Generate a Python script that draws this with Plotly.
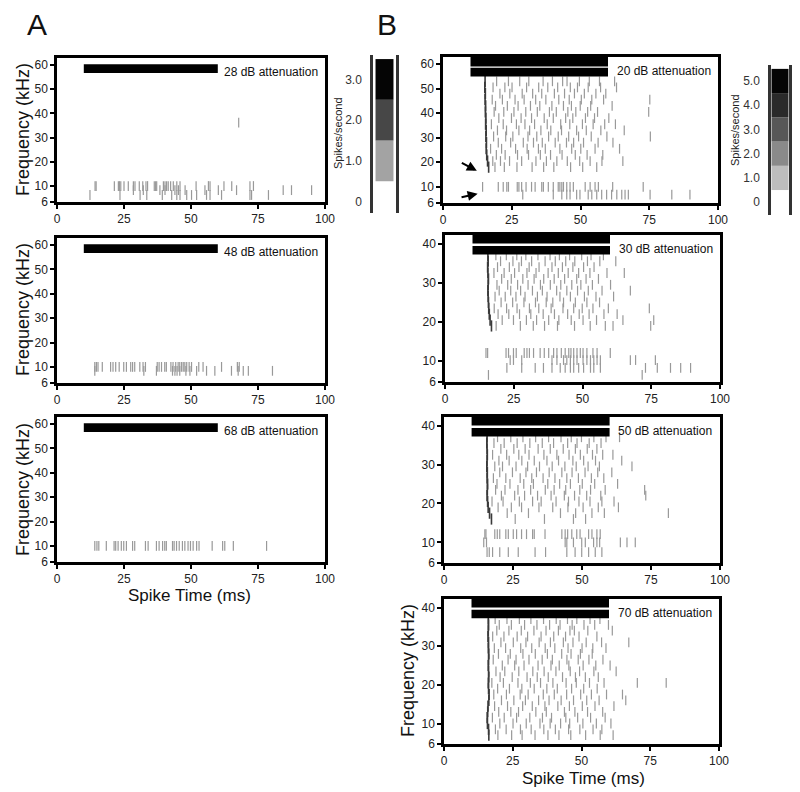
import plotly.graph_objects as go

FONT = "Liberation Sans, Arial, sans-serif"

# ---- shared axis / stimulus values ----
STIM_ON, STIM_OFF = 10, 60
X_TICKS = [0, 25, 50, 75, 100]
A_Y_TICKS = [10, 20, 30, 40, 50, 60]
B_Y_TICKS = [10, 20, 30, 40]
A_Y_RANGE = [3.4, 62.9]   # bottom of axis is labelled "6"
B_Y_RANGE = [4.7, 42.2]

# ---- Panel A: 28 dB ----
A1_ROWS = [10, 8.3, 6.3, 36.2]
A1_TIMES = [
    [14.2, 14.6, 21.4, 22.9, 23.3, 23.8, 25, 26.6, 28.5, 29.1, 30.7, 32, 33.2, 33.8, 36.3, 36.8,
     37.2, 39.7, 40.3, 40.9, 41.5, 42.4, 43.4, 44.7, 45.9, 51.9, 56.5, 57.1, 62.3, 65.2, 72, 73.3],
    [28.5, 32.2, 38.4, 40.3, 44, 45.3, 47.8, 55.2, 60.2, 67, 84.4, 87.5, 95],
    [12.3, 23.5, 31, 33.5, 39.3, 42.8, 44.7, 45.9, 48.4, 50.2, 52.1, 55.8, 57.1, 61.4, 72, 72.6, 78.9],
    [67.8],
]

# ---- Panel A: 48 dB ----
A2_ROWS = [10, 8.4]
A2_TIMES = [
    [14.1, 14.7, 15.3, 16.9, 20, 20.9, 21.9, 23.2, 24.9, 25.9, 27.5, 28.2, 29, 30.9, 32.1, 33,
     37.4, 38.1, 39, 40.2, 40.8, 42.5, 43.3, 44.3, 45.2, 45.8, 46.5, 47.1, 47.7, 48.4, 49.3,
     50.2, 52.9, 54.5, 61.4, 67.3, 68],
    [14.1, 32.4, 37.1, 43.1, 44, 44.8, 45.8, 48.1, 49.6, 52.1, 55.8, 58.9, 65.1, 67.6, 69.5,
     71.4, 80.4],
]

# ---- Panel A: 68 dB ----
A3_ROWS = [10]
A3_TIMES = [
    [14.1, 14.9, 15.6, 18.4, 21.3, 21.9, 22.8, 24, 24.9, 25.9, 28.2, 29, 33, 34, 37.1, 38.1,
     39.4, 40.2, 40.8, 43.1, 43.7, 44.6, 45.6, 46.8, 47.7, 48.9, 49.8, 50.8, 52.1, 53, 57.9,
     61.8, 62.6, 65.8, 78.2],
]

# ---- Panel B: 20 dB ----
B1_ROWS = [53, 50.5, 48, 45.5, 43, 40.5, 38, 35.5, 33, 30.5, 28, 25.5, 23, 20.5, 18, 10, 6.8]
B1_FIRST = [15.3, 15.2, 15.4, 15.3, 15.5, 15.4, 15.6, 15.5, 15.7, 15.6, 15.8, 15.7, 15.9, 16.2, 16.6]
B1_TIMES = [
    [19.5, 23.8, 27.9, 31.2, 36.4, 39.8, 43.5, 45.1, 49.6, 53.2, 56.9, 62.4],
    [18.2, 22.5, 25.1, 30.4, 34.8, 38.1, 41.7, 46.3, 48.9, 52.8, 57.3, 63.1],
    [20.7, 24.3, 28.8, 32.6, 35.9, 40.5, 44.2, 47.8, 51.4, 55.6, 59.2],
    [17.9, 21.6, 26.2, 29.5, 33.7, 37.4, 42.1, 45.9, 50.3, 54.1, 58.4, 75.2],
    [19.1, 23.4, 27.3, 31.8, 35.2, 39.6, 43.8, 46.7, 49.9, 53.7, 61.5],
    [18.6, 22.1, 25.8, 30.1, 34.3, 38.7, 41.2, 45.4, 48.3, 52.6, 56.2, 74.8],
    [20.3, 24.9, 28.4, 32.2, 36.8, 40.1, 44.6, 47.2, 51.8, 55.1, 60.3],
    [17.6, 21.9, 26.7, 29.8, 33.3, 37.9, 42.8, 46.1, 50.7, 54.6, 58.8, 62.7],
    [19.8, 23.1, 27.6, 31.5, 35.6, 39.2, 43.1, 48.6, 52.1, 57.4, 65.9],
    [18.4, 22.8, 25.4, 30.9, 34.1, 38.4, 41.9, 45.7, 49.3, 53.9, 59.6, 75.4],
    [20.1, 24.6, 29.2, 32.9, 36.1, 40.8, 44.9, 47.5, 51.1, 56.4, 61.8],
    [17.3, 21.3, 26.4, 30.6, 34.7, 37.2, 42.5, 46.8, 50.1, 55.3, 64.2],
    [19.4, 22.6, 27.1, 31.1, 35.4, 39.1, 43.3, 48.1, 52.4, 58.1],
    [18.1, 20.9, 24.2, 28.6, 33.8, 37.6, 41.4, 45.2, 49.7, 53.5, 57.8, 65.4],
    [18.9, 22.3, 26.9, 32.4, 36.6, 40.3, 46.4, 50.8, 55.9],
    [14.4, 20.1, 21.9, 23.2, 23.8, 27, 27.6, 28.6, 30.2, 32.2, 33.5, 35.9, 36.5, 38.3, 40.1,
     41.9, 42.5, 43.2, 43.8, 45, 46.2, 47.4, 51.7, 53.5, 55.3, 56.5, 61.7, 72.8],
    [29, 40.1, 43.2, 45, 46.2, 48.6, 49.8, 52.8, 54.1, 55.9, 57.7, 59.5, 61.3, 63.2, 65, 66.2,
     67.4, 75.3, 83.2, 89.8],
]

# ---- Panel B: 30 dB ----
B2_ROWS = [37, 35.5, 34, 32.5, 31, 29.5, 28, 26.5, 25, 23.5, 22, 20.5, 19, 12.1, 10.3, 8.3, 6.5]
B2_FIRST = [15.6, 15.7, 15.5, 15.6, 15.8, 15.7, 15.6, 15.7, 15.8, 15.9, 16.1, 16.4, 16.9]
B2_TIMES = [
    [18.5, 22.3, 26.1, 29.4, 33.8, 38.2, 41.6, 45.3, 49.7, 53.1, 57.6],
    [20.2, 24.7, 27.8, 31.5, 36.4, 40.1, 43.9, 47.2, 51.8, 56.3, 62.1],
    [19.1, 23.4, 26.9, 30.6, 34.2, 38.9, 42.7, 46.5, 50.4, 54.2],
    [17.8, 21.5, 25.3, 29.8, 33.1, 37.5, 41.2, 44.8, 48.6, 52.7, 58.9, 65.2],
    [20.6, 24.1, 28.3, 32.4, 35.9, 39.7, 43.5, 47.9, 51.3, 55.8],
    [18.9, 22.8, 26.4, 30.2, 34.7, 38.3, 42.1, 46.1, 49.4, 53.6, 60.2],
    [19.7, 23.9, 27.5, 31.8, 35.4, 40.6, 44.3, 48.2, 52.1, 57.1, 67.4],
    [18.2, 21.9, 25.8, 29.1, 33.6, 37.1, 41.8, 45.6, 50.7, 54.9, 61.3],
    [20.4, 24.6, 28.7, 32.9, 36.8, 39.2, 43.1, 47.4, 51.6, 56.2],
    [17.9, 22.4, 26.2, 30.7, 34.1, 38.6, 42.9, 46.8, 49.9, 53.8, 59.4, 74.3],
    [19.3, 23.2, 27.1, 31.2, 35.7, 39.8, 44.6, 48.8, 52.4, 57.8, 62.6],
    [20.8, 24.9, 29.6, 33.3, 37.7, 41.4, 45.9, 50.2, 55.1, 64.7, 75.9],
    [18.6, 27.4, 32.1, 36.2, 40.9, 47.1, 52.8, 58.3, 61.1, 74.8],
    [14.9, 15.5, 22.2, 23.1, 24.9, 25.9, 28.8, 29.8, 30.7, 32.2, 34.6, 36.1, 37.7, 39.5, 40.7,
     42.3, 43.7, 45, 45.8, 46.8, 48, 49.2, 50.2, 51.6, 53.8, 55.3, 60.1],
    [23.7, 24.9, 27.9, 38.9, 40.7, 43.1, 44.3, 45.6, 46.8, 48, 50.2, 51.6, 52.9, 54.1, 55.3,
     56.5, 67.4, 69.3, 76.5],
    [22.5, 27.9, 32.8, 35.8, 38.9, 41.9, 43.7, 45.6, 46.8, 48.6, 50.4, 52.9, 54.1, 56.5, 72.9,
     77.2, 82, 85.7, 89.3],
    [15.8, 71.7],
]

# ---- Panel B: 50 dB ----
B3_ROWS = [37, 35.5, 34, 32.5, 31, 29.5, 28, 26.5, 25, 23.5, 22, 20.5, 19, 17.5, 16, 12.1, 10, 7.5]
B3_FIRST = [15.6, 15.5, 15.6, 15.7, 15.6, 15.5, 15.7, 15.6, 15.8, 15.7, 15.6, 15.8, 16.0, 16.5, 17.2]
B3_TIMES = [
    [19.4, 24.2, 28.6, 33.2, 37.9, 42.4, 46.1, 49.8, 54.3, 58.7, 63.6],
    [18.1, 21.8, 26.5, 31.1, 35.6, 39.7, 44.8, 48.2, 52.6, 56.9],
    [20.6, 25.3, 29.4, 34.1, 38.5, 43.2, 47.6, 51.9, 55.4],
    [17.6, 22.7, 27.1, 30.8, 36.2, 40.9, 45.3, 49.4, 53.8, 57.5, 61.2],
    [19.9, 23.6, 28.2, 32.7, 37.3, 41.5, 46.7, 50.6, 54.9, 64.4],
    [18.4, 21.2, 26.1, 30.3, 34.6, 39.2, 43.8, 47.9, 52.2, 56.3, 68.1],
    [20.2, 24.8, 29.7, 33.5, 38.1, 42.7, 46.4, 51.1, 55.7, 60.8],
    [17.9, 22.4, 27.6, 31.8, 35.9, 40.2, 44.5, 48.7, 53.4, 57.9],
    [19.2, 23.9, 28.9, 32.4, 37.6, 41.9, 45.8, 50.1, 54.6, 62.9],
    [18.7, 22.1, 26.8, 31.4, 36.7, 39.9, 44.1, 49.2, 53.1, 58.4, 72.7],
    [20.8, 25.6, 29.2, 33.9, 38.8, 43.6, 47.3, 51.7, 56.8, 73.1],
    [17.4, 21.4, 27.3, 32.1, 35.2, 40.6, 45.1, 48.9, 52.9, 57.2, 61.6],
    [19.6, 24.4, 28.1, 34.4, 39.4, 44.9, 50.4, 55.9, 63.2],
    [22.9, 30.6, 42.2, 47.7, 53.6, 58.1, 81.3],
    [25.8, 36.4, 46.9, 51.3],
    [14.8, 15.2, 18.4, 19.3, 20.2, 22.4, 23.3, 25.1, 26.3, 28.1, 29.9, 32.1, 32.7, 36.6, 42.7,
     43.9, 44.8, 46.3, 48.1, 49.3, 52.4, 53.6, 55.4, 56.6],
    [14.4, 15.4, 43.9, 44.5, 46.9, 49.9, 51.2, 54.2, 55.4, 56.4, 63.9, 66.3, 69.3],
    [15.6, 16.4, 17.6, 20.2, 23.3, 26.9, 33, 36.8, 44.5, 47.5, 49.9, 52.4, 54.8, 57.2],
]

# ---- Panel B: 70 dB ----
B4_ROWS = [37, 35.5, 34, 32.5, 31, 29.5, 28, 26.5, 25, 23.5, 22, 20.5, 19, 17.5, 16, 14.5, 13,
           11.5, 10, 8.5, 7]
B4_FIRST = [16.1, 16.2, 16.1, 16.0, 16.2, 16.1, 16.3, 16.2, 16.1, 16.2, 16.3, 16.1, 16.2, 16.4,
            16.3, 16.0, 15.9, 15.7, 15.8, 16.2, 16.3]
B4_TIMES = [
    [18.6, 22.9, 27.4, 31.6, 36.2, 40.8, 44.9, 48.3, 53.1, 56.7],
    [20.1, 24.5, 29.3, 33.8, 38.4, 42.2, 46.6, 50.9, 54.8, 59.8],
    [19.2, 23.6, 28.1, 32.7, 37.1, 41.6, 45.8, 47.4, 52.3, 61.2],
    [17.7, 21.8, 26.6, 30.4, 35.3, 39.9, 44.2, 49.1, 55.6],
    [20.7, 25.2, 29.8, 34.6, 38.7, 43.4, 46.9, 51.7, 57.3, 67.2],
    [18.3, 22.4, 27.9, 31.9, 36.8, 40.3, 45.1, 50.2, 54.1, 58.9],
    [19.8, 24.1, 28.7, 33.2, 37.6, 42.8, 46.2, 49.6, 53.9],
    [17.9, 23.3, 26.2, 30.9, 35.7, 39.4, 44.7, 48.8, 52.7, 57.8],
    [21.2, 25.7, 29.1, 34.2, 38.9, 41.9, 45.4, 50.6, 55.2, 60.4],
    [18.9, 22.1, 27.2, 32.3, 36.4, 40.7, 45.9, 49.3, 54.5, 62.6],
    [20.4, 24.8, 30.2, 33.9, 37.9, 43.1, 47.8, 51.4, 56.1],
    [17.4, 21.6, 26.9, 31.4, 35.1, 39.6, 44.4, 48.1, 52.9, 58.2, 70.3, 80.8],
    [19.5, 23.8, 28.3, 32.8, 37.4, 41.2, 46.4, 50.8, 55.7],
    [18.1, 22.7, 27.7, 30.6, 36.1, 40.1, 44.6, 49.7, 53.6, 59.1, 64.9],
    [20.9, 25.4, 29.6, 34.4, 38.2, 42.6, 47.1, 51.9, 56.4, 66.1],
    [18.4, 23.1, 28.6, 32.1, 36.7, 41.4, 45.6, 50.3, 54.9, 61.8],
    [19.9, 24.3, 27.1, 33.4, 37.2, 43.8, 47.6, 52.2, 57.7],
    [17.6, 21.9, 26.4, 31.2, 35.8, 39.1, 44.3, 48.6, 53.3, 58.6],
    [20.3, 25.1, 29.9, 34.9, 38.6, 42.4, 45.7, 50.5, 55.4, 60.7],
    [18.7, 22.6, 27.8, 31.7, 36.3, 40.5, 45.3, 49.4, 54.2, 57.4],
    [19.6, 24.6, 28.4, 33.1, 37.8, 41.8, 46.1, 51.5, 56.8, 61.5],
]

# ---- colour keys ----
CB_A_LEVELS = [1, 2, 3]
CB_A_COLORS = ["#a3a3a3", "#474747", "#050505"]
CB_A_LABELS = ["0", "1.0", "2.0", "3.0"]
CB_B_LEVELS = [1, 2, 3, 4, 5]
CB_B_COLORS = ["#bdbdbd", "#8a8a8a", "#575757", "#2a2a2a", "#050505"]
CB_B_LABELS = ["0", "1.0", "2.0", "3.0", "4.0", "5.0"]

PANELS = [
    # axis id, rows, times, first spikes, label, y kind
    ("", A1_ROWS, A1_TIMES, [], "28 dB attenuation", "A"),
    ("2", A2_ROWS, A2_TIMES, [], "48 dB attenuation", "A"),
    ("3", A3_ROWS, A3_TIMES, [], "68 dB attenuation", "A"),
    ("4", B1_ROWS, B1_TIMES, B1_FIRST, "20 dB attenuation", "A"),
    ("5", B2_ROWS, B2_TIMES, B2_FIRST, "30 dB attenuation", "B"),
    ("6", B3_ROWS, B3_TIMES, B3_FIRST, "50 dB attenuation", "B"),
    ("7", B4_ROWS, B4_TIMES, B4_FIRST, "70 dB attenuation", "B"),
]

W, H = 800, 792
PAGE = 8  # page body margin in the browser


def fx(p):
    return (p - PAGE) / W


def fy(p):
    return 1 - (p - PAGE) / H


def px_x(a, b):
    return [fx(a), fx(b)]


def px_y(top, bottom):
    return [fy(bottom), fy(top)]


DOMAINS = {
    "": (px_x(57, 325), px_y(58, 202)),
    "2": (px_x(57, 325), px_y(238, 383)),
    "3": (px_x(57, 325), px_y(417, 562)),
    "4": (px_x(443, 718), px_y(57, 203)),
    "5": (px_x(445, 720), px_y(235, 382)),
    "6": (px_x(444, 720), px_y(417, 563)),
    "7": (px_x(444, 719), px_y(599, 744)),
}

fig = go.Figure()
layout = {}
shapes = []
annotations = []

tick_font = dict(family=FONT, size=12, color="#222")

for ax, rows, times, first, label, kind in PANELS:
    xs, ys = [], []
    for f, ts in zip(rows, times):
        xs += ts
        ys += [f] * len(ts)
    fig.add_trace(go.Scatter(
        x=xs, y=ys, mode="markers",
        marker=dict(symbol="line-ns", size=7, line=dict(width=1.2, color="#999999")),
        xaxis="x" + ax, yaxis="y" + ax, showlegend=False, hoverinfo="skip",
    ))
    if first:
        fig.add_trace(go.Scatter(
            x=first, y=rows[:len(first)], mode="markers",
            marker=dict(symbol="line-ns", size=8, line=dict(width=1.6, color="#3a3a3a")),
            xaxis="x" + ax, yaxis="y" + ax, showlegend=False, hoverinfo="skip",
        ))

    yr = A_Y_RANGE if kind == "A" else B_Y_RANGE
    yt = A_Y_TICKS if kind == "A" else B_Y_TICKS
    xd, yd = DOMAINS[ax]
    layout["xaxis" + ax] = dict(
        domain=xd, range=[0, 100], tickvals=X_TICKS, anchor="y" + ax, automargin=False,
        showline=True, mirror=True, linewidth=2.5, linecolor="black",
        ticks="outside", ticklen=4, tickwidth=1.5, tickcolor="black",
        showgrid=False, zeroline=False, tickfont=tick_font,
    )
    layout["yaxis" + ax] = dict(
        domain=yd, range=yr, tickvals=[yr[0]] + yt, automargin=False,
        ticktext=["6"] + [str(v) for v in yt], anchor="x" + ax,
        showline=True, mirror=True, linewidth=2.5, linecolor="black",
        ticks="outside", ticklen=4, tickwidth=1.5, tickcolor="black",
        showgrid=False, zeroline=False, tickfont=tick_font,
    )

    # stimulus bars (one for A, two stacked for B)
    if ax in ("", "2", "3"):
        bars = [(56.7, 60.3)]
    elif ax == "4":
        bars = [(59.0, 64.0), (55.0, 58.5)]
    else:
        bars = [(40.0, 44.0), (37.2, 39.4)]
    for y0, y1 in bars:
        shapes.append(dict(type="rect", xref="x" + ax, yref="y" + ax,
                           x0=STIM_ON, x1=STIM_OFF, y0=y0, y1=min(y1, yr[1]),
                           fillcolor="black", line=dict(width=0)))

    label_y = 57.3 if kind == "A" else 38.6
    annotations.append(dict(
        text=label, x=98, y=label_y, xref="x" + ax, yref="y" + ax,
        xanchor="right", yanchor="middle", showarrow=False,
        font=dict(family=FONT, size=12, color="#111"),
    ))


def paper_text(text, cx, cy, size, angle=0, color="#111"):
    return dict(text=text, x=fx(cx), y=fy(cy), xref="paper", yref="paper",
                xanchor="center", yanchor="middle", textangle=angle, showarrow=False,
                font=dict(family=FONT, size=size, color=color))


# axis titles at the pixel positions of the original
for cx, cy in [(23, 130), (23, 310), (23, 490), (408, 671)]:
    annotations.append(paper_text("Frequency (kHz)", cx, cy, 18, angle=-90))
for cx, cy in [(189, 595), (583, 778)]:
    annotations.append(paper_text("Spike Time (ms)", cx, cy, 17))

# arrows in the 20 dB panel
annotations.append(dict(x=12.3, y=16.5, ax=6.3, ay=20.1, xref="x4", yref="y4",
                        axref="x4", ayref="y4", showarrow=True, arrowhead=2,
                        arrowsize=1, arrowwidth=2, arrowcolor="black", text=""))
annotations.append(dict(x=12.6, y=7.2, ax=6.2, ay=5.6, xref="x4", yref="y4",
                        axref="x4", ayref="y4", showarrow=True, arrowhead=2,
                        arrowsize=1, arrowwidth=2, arrowcolor="black", text=""))

# colour keys
for ax, levels, colors, labels, xd, yd, yr, xr in [
    ("8", CB_A_LEVELS, CB_A_COLORS, CB_A_LABELS, px_x(373, 396), px_y(55, 213), [-0.28, 3.6], 0.64),
    ("9", CB_B_LEVELS, CB_B_COLORS, CB_B_LABELS, px_x(771, 789), px_y(65, 215), [-0.53, 5.66], 0.53),
]:
    fig.add_trace(go.Bar(
        x=[0] * len(levels), y=[1] * len(levels), base=[v - 0.5 for v in levels],
        width=1, marker=dict(color=colors, line=dict(width=0)),
        xaxis="x" + ax, yaxis="y" + ax, showlegend=False, hoverinfo="skip",
    ))
    layout["xaxis" + ax] = dict(domain=xd, range=[-xr, xr], visible=False, anchor="y" + ax,
                                automargin=False)
    layout["yaxis" + ax] = dict(
        domain=yd, range=yr, anchor="x" + ax, tickvals=list(range(len(labels))),
        ticktext=labels, showline=True, mirror=True, linewidth=2.5, linecolor="#333",
        ticks="", showgrid=False, zeroline=False, ticklabelstandoff=6, automargin=False,
        tickfont=dict(family=FONT, size=12, color="#333"),
    )

annotations.append(paper_text("Spikes/second", 338, 133, 11, angle=-90, color="#222"))
annotations.append(paper_text("Spikes/second", 735, 130, 11, angle=-90, color="#222"))

# panel letters
annotations.append(paper_text("A", 37, 24, 30))
annotations.append(paper_text("B", 387, 24, 30))

fig.update_layout(
    width=W, height=H,
    margin=dict(l=0, r=0, t=0, b=0),
    paper_bgcolor="white", plot_bgcolor="white",
    shapes=shapes, annotations=annotations,
    font=dict(family=FONT),
    **layout,
)

fig.write_html("out.html")
